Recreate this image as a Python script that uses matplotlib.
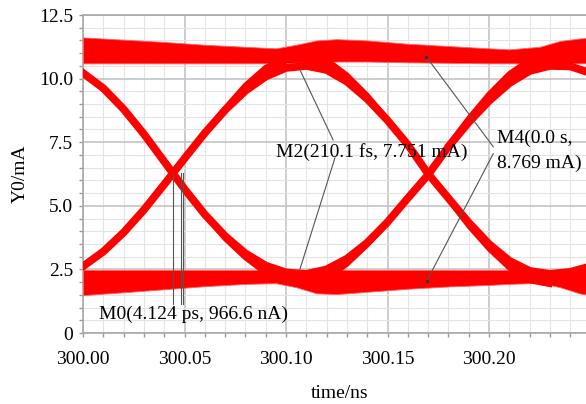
import numpy as np
import matplotlib
matplotlib.use('Agg')
import matplotlib.pyplot as plt
from matplotlib.ticker import MultipleLocator

plt.rcParams['font.family'] = ['Liberation Serif', 'DejaVu Serif']
plt.rcParams['font.size'] = 14

# time grid for the two long transition paths (ns)
t_eye = np.linspace(300.00, 300.25, 26)
# falling edge -> low -> rising edge -> high
fall_rise = [10.22, 9.62, 8.80, 7.82, 6.74, 5.66, 4.66, 3.81, 3.13, 2.65, 2.38, 2.32, 2.50,
             2.92, 3.55, 4.36, 5.30, 6.22, 7.32, 8.28, 9.12, 9.82, 10.30, 10.50, 10.48, 10.22]
# rising edge -> high -> falling edge -> low
rise_fall = [2.62, 3.20, 3.95, 4.84, 5.84, 6.86, 7.86, 8.76, 9.52, 10.08, 10.42, 10.50, 10.34,
             9.88, 9.20, 8.36, 7.40, 6.26, 5.30, 4.34, 3.50, 2.84, 2.44, 2.32, 2.40, 2.62]

# short traces that run into / out of the rails (same time steps as t_eye)
t_in1 = [300.06, 300.07, 300.08, 300.09, 300.10]
rise_in1 = [7.90, 8.85, 9.75, 10.45, 10.80]
fall_in1 = [4.62, 3.70, 2.95, 2.35, 2.00]
t_out1 = [300.11, 300.12, 300.13, 300.14, 300.15]
fall_out1 = [10.90, 10.75, 10.15, 9.35, 8.42]
rise_out1 = [1.90, 2.10, 2.70, 3.45, 4.30]
t_in2 = [300.18, 300.19, 300.20, 300.21, 300.22, 300.23]
rise_in2 = [7.40, 8.45, 9.40, 10.20, 10.75, 10.90]
fall_in2 = [5.25, 4.20, 3.30, 2.55, 2.05, 1.90]

# the "1" and "0" rails (upper / lower envelope, mA)
t_rail = [300.00, 300.02, 300.04, 300.06, 300.08, 300.095, 300.105, 300.115, 300.125, 300.14,
          300.16, 300.18, 300.20, 300.21, 300.225, 300.235, 300.245, 300.25]
top_hi = [11.62, 11.53, 11.44, 11.33, 11.25, 11.19, 11.33, 11.50, 11.55, 11.50,
          11.37, 11.28, 11.19, 11.15, 11.25, 11.48, 11.58, 11.60]
top_lo = [10.60, 10.60, 10.60, 10.60, 10.60, 10.60, 10.62, 10.65, 10.67, 10.67,
          10.64, 10.62, 10.60, 10.60, 10.60, 10.60, 10.60, 10.60]
bot_hi = [2.48, 2.48, 2.48, 2.48, 2.48, 2.48, 2.48, 2.48, 2.48, 2.48,
          2.48, 2.48, 2.48, 2.48, 2.48, 2.48, 2.48, 2.48]
bot_lo = [1.49, 1.60, 1.72, 1.84, 1.93, 1.96, 1.80, 1.56, 1.53, 1.62,
          1.74, 1.83, 1.89, 1.93, 1.97, 1.80, 1.55, 1.49]

# markers
m0_x = [300.0442, 300.0482, 300.0495]
m0_y = [1.15, 6.30]
m2_lines = [([300.1232, 300.1069], [7.59, 10.34]), ([300.1241, 300.1069], [6.88, 2.52])]
m4_lines = [([300.2021, 300.1691], [7.32, 10.86]), ([300.2021, 300.1693], [7.05, 2.04])]

x_ticks = [300.00, 300.05, 300.10, 300.15, 300.20]
y_ticks = [0, 2.5, 5.0, 7.5, 10.0, 12.5]
y_labels = ['0', '2.5', '5.0', '7.5', '10.0', '12.5']

fig = plt.figure(figsize=(5.86, 4.04), dpi=100)
ax = fig.add_axes([83/586, 71/404, 507.5/586, 318/404])

red = '#ff0000'
ax.fill_between(t_rail, top_lo, top_hi, color=red, lw=0.6, ec='#ff6060', zorder=3)
ax.fill_between(t_rail, bot_lo, bot_hi, color=red, lw=0.6, ec='#ff6060', zorder=3)
ax.plot(t_eye, fall_rise, color=red, lw=5.6, solid_joinstyle='round', zorder=3)
ax.plot(t_eye, rise_fall, color=red, lw=5.6, solid_joinstyle='round', zorder=3)

# widen the edges where traces join / leave the rails
t_list = list(np.round(t_eye, 2))
extra = [(t_in1, rise_in1, rise_fall), (t_in1, fall_in1, fall_rise),
         (t_out1, fall_out1, rise_fall), (t_out1, rise_out1, fall_rise),
         (t_in2, rise_in2, fall_rise), (t_in2, fall_in2, rise_fall)]
for t, y, base in extra:
    i0 = t_list.index(round(t[0], 2))
    ax.fill_between(t, base[i0:i0 + len(t)], y, color=red, lw=0, zorder=3)
    ax.plot(t, y, color=red, lw=3.5, solid_joinstyle='round', zorder=3)

# marker lines
mk = '#555555'
for x in m0_x:
    ax.plot([x, x], m0_y, color=mk, lw=0.8, zorder=4)
for xs, ys in m2_lines + m4_lines:
    ax.plot(xs, ys, color=mk, lw=0.8, zorder=4)
ax.plot([m4_lines[0][0][1], m4_lines[1][0][1]], [m4_lines[0][1][1], m4_lines[1][1][1]],
        ls='none', marker='o', ms=1.5, color='#333333', zorder=4)

ax.text(300.0079, 0.75, 'M0(4.124 ps, 966.6 nA)', va='center', ha='left', zorder=5)
ax.text(300.0951, 7.13, 'M2(210.1 fs, 7.751 mA)', va='center', ha='left', zorder=5)
ax.text(300.2039, 7.67, 'M4(0.0 s,', va='center', ha='left', zorder=5, clip_on=False)
ax.text(300.2039, 6.68, '8.769 mA)', va='center', ha='left', zorder=5, clip_on=False)

ax.set_xlim(300.00, 300.25)
ax.set_ylim(0, 12.5)
ax.set_xticks(x_ticks)
ax.set_xticklabels([f'{v:.2f}' for v in x_ticks])
ax.set_yticks(y_ticks)
ax.set_yticklabels(y_labels)
ax.xaxis.set_minor_locator(MultipleLocator(0.01))
ax.yaxis.set_minor_locator(MultipleLocator(0.5))
ax.grid(True, which='major', color='#c4c4c4', lw=1.2, zorder=0)
ax.grid(True, which='minor', color='#e4e4e4', lw=0.8, zorder=0)
ax.set_axisbelow(True)
ax.tick_params(which='both', direction='out', length=3, color='#999999', width=1)
ax.tick_params(axis='x', pad=10)
ax.tick_params(axis='y', pad=4)
for s in ['left', 'bottom', 'top']:
    ax.spines[s].set_color('#a8a8a8')
    ax.spines[s].set_linewidth(1.2)
ax.spines['right'].set_visible(False)

ax.set_xlabel('time/ns')
ax.xaxis.set_label_coords(0.506, -0.165)
ax.set_ylabel('Y0/mA')
ax.yaxis.set_label_coords(-0.106, 0.5)

fig.savefig('out.png', dpi=100)
